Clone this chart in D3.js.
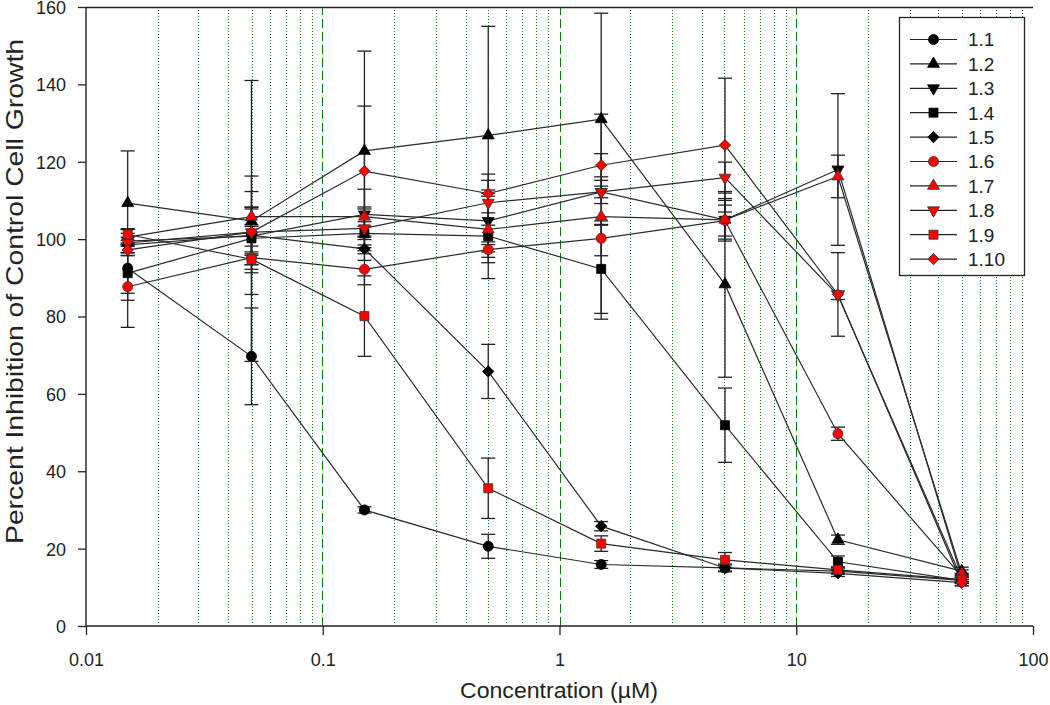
<!DOCTYPE html>
<html>
<head>
<meta charset="utf-8">
<script src="https://cdn.jsdelivr.net/npm/d3@7"></script>
<style>
  html, body { margin: 0; padding: 0; background: #fff; }
  svg { display: block; font-family: "Liberation Sans", Arial, sans-serif; }
</style>
</head>
<body>
<svg id="chart" width="1050" height="705"></svg>
<script>
// ---- data ----
const concentrations = [0.015, 0.05, 0.15, 0.5, 1.5, 5, 15, 50];
const seriesNames = ["1.1", "1.2", "1.3", "1.4", "1.5", "1.6", "1.7", "1.8", "1.9", "1.10"];
const xTickValues = [0.01, 0.1, 1, 10, 100];
const xTickLabels = ["0.01", "0.1", "1", "10", "100"];
const yTickValues = [0, 20, 40, 60, 80, 100, 120, 140, 160];

const s1_1  = [92.5, 69.7, 30.0, 20.6, 15.9, 15.0, 14.2, 11.8];
const s1_2  = [109.3, 104.7, 122.8, 126.8, 131.0, 88.3, 22.3, 14.2];
const s1_3  = [99.5, 100.8, 106.4, 104.7, 112.2, 105.0, 118.0, 12.5];
const s1_4  = [91.2, 100.2, 101.5, 100.8, 92.3, 51.9, 16.6, 11.8];
const s1_5  = [98.5, 101.0, 97.5, 65.8, 25.8, 15.0, 13.6, 11.2];
const s1_6  = [87.7, 95.2, 92.2, 97.3, 100.2, 104.8, 49.7, 12.8];
const s1_7  = [100.5, 105.8, 105.8, 102.5, 105.8, 105.0, 116.2, 13.5];
const s1_8  = [99.0, 101.8, 102.8, 109.4, 112.2, 115.9, 85.5, 12.2];
const s1_9  = [101.2, 94.8, 80.1, 35.6, 21.3, 17.1, 14.5, 12.0];
const s1_10 = [97.2, 101.8, 117.6, 111.8, 119.1, 124.3, 85.7, 11.2];

const e1_1  = [6.5, 12.5, 0.8, 3.1, 1.0, 1.0, 0.8, 0.8];
const e1_2  = [13.5, 36.3, 25.8, 28.2, 27.4, 24.0, 1.2, 1.0];
const e1_3  = [3.0, 7.4, 6.5, 8.0, 3.0, 5.0, 19.6, 1.0];
const e1_4  = [7.0, 3.5, 3.0, 11.0, 11.5, 9.6, 1.5, 0.8];
const e1_5  = [2.0, 15.3, 3.0, 7.0, 1.2, 0.8, 0.8, 0.8];
const e1_6  = [10.5, 3.0, 4.0, 2.0, 4.5, 4.0, 1.7, 0.8];
const e1_7  = [2.0, 2.5, 2.5, 8.6, 26.5, 5.5, 5.5, 1.0];
const e1_8  = [2.5, 6.0, 5.0, 5.8, 1.5, 4.0, 1.1, 0.8];
const e1_9  = [1.5, 1.4, 10.4, 7.8, 2.0, 1.9, 0.8, 0.8];
const e1_10 = [1.5, 10.5, 16.8, 5.0, 3.0, 17.3, 10.8, 0.8];

const seriesValues = [s1_1, s1_2, s1_3, s1_4, s1_5, s1_6, s1_7, s1_8, s1_9, s1_10];
const seriesErrors = [e1_1, e1_2, e1_3, e1_4, e1_5, e1_6, e1_7, e1_8, e1_9, e1_10];
const seriesShapes = ["circle", "up", "down", "square", "diamond", "circle", "up", "down", "square", "diamond"];
const seriesFills  = ["#000", "#000", "#000", "#000", "#000", "#ff0000", "#ff0000", "#ff0000", "#ff0000", "#ff0000"];

// ---- layout ----
const svg = d3.select("#chart");
const pLeft = 86, pRight = 1033, pTop = 7, pBottom = 626;
const x = d3.scaleLog().domain([0.01, 100]).range([pLeft, pRight]);
const y = d3.scaleLinear().domain([0, 160]).range([pBottom, pTop]);

// grid lines (snapped to even pixel columns so the green survives chroma subsampling)
const evenPx = v => 2 * Math.round(v / 2) + 0.5;
const grid = svg.append("g").attr("shape-rendering", "crispEdges");
const minors = [];
[0.01, 0.1, 1, 10].forEach(d => { for (let k = 2; k <= 9; k++) minors.push(k * d); });
grid.selectAll("line.minor").data(minors).enter().append("line")
  .attr("x1", d => evenPx(x(d))).attr("x2", d => evenPx(x(d)))
  .attr("y1", pBottom - 3).attr("y2", pTop + 2)
  .attr("stroke", "#008a00").attr("stroke-width", 1).attr("stroke-dasharray", "1,2");
grid.selectAll("line.major").data([0.1, 1, 10]).enter().append("line")
  .attr("x1", d => evenPx(x(d))).attr("x2", d => evenPx(x(d)))
  .attr("y1", pBottom).attr("y2", pTop)
  .attr("stroke", "#008000").attr("stroke-width", 1).attr("stroke-dasharray", "9,4");

// axes
const xAxis = d3.axisBottom(x).tickValues(xTickValues).tickFormat((d, i) => xTickLabels[i]).tickSize(9).tickPadding(18);
const gx = svg.append("g").attr("transform", `translate(0,${pBottom})`).call(xAxis);
const yAxis = d3.axisLeft(y).tickValues(yTickValues).tickSize(8).tickPadding(12);
const gy = svg.append("g").attr("transform", `translate(${pLeft},0)`).call(yAxis);
[gx, gy].forEach(g => {
  g.select(".domain").attr("stroke", "#222").attr("stroke-width", 1.4);
  g.selectAll(".tick line").attr("stroke", "#222").attr("stroke-width", 1.3);
  g.selectAll(".tick text").attr("fill", "#222").style("font-size", "18px")
    .style("font-family", "'Liberation Sans', Arial, sans-serif");
});
gy.selectAll(".tick text").attr("dy", "0.36em");
gx.select(".domain").attr("d", `M${pLeft},0H${pRight}`);
gy.select(".domain").attr("d", `M0,${pBottom}V${pTop}`);
// top frame line
svg.append("line").attr("x1", pLeft).attr("x2", pRight).attr("y1", pTop + 0.5).attr("y2", pTop + 0.5)
  .attr("stroke", "#222").attr("stroke-width", 1.3);

// axis titles
svg.append("text").attr("x", 559).attr("y", 698).attr("text-anchor", "middle")
  .style("font-size", "22px").attr("fill", "#222")
  .attr("textLength", 198).attr("lengthAdjust", "spacingAndGlyphs")
  .text("Concentration (µM)");
svg.append("text").attr("transform", `translate(23,${(pTop + pBottom) / 2 - 25}) rotate(-90)`)
  .attr("text-anchor", "middle")
  .style("font-size", "24px").attr("fill", "#222")
  .attr("textLength", 505).attr("lengthAdjust", "spacingAndGlyphs")
  .text("Percent Inhibition of Control Cell Growth");

// symbols
function symbolPath(shape) {
  switch (shape) {
    case "circle": return d3.symbol(d3.symbolCircle, 80)();
    case "up": return d3.symbol(d3.symbolTriangle, 62)();
    case "down": return d3.symbol(d3.symbolTriangle, 62)();
    case "square": return d3.symbol(d3.symbolSquare, 82)();
    case "diamond": return d3.symbol(d3.symbolSquare, 64)();
  }
}
function symbolRotate(shape) {
  if (shape === "down") return " rotate(180)";
  if (shape === "diamond") return " rotate(45)";
  return "";
}

const series = seriesNames.map((name, i) => ({
  name, shape: seriesShapes[i], fill: seriesFills[i],
  points: concentrations.map((c, j) => ({ c, v: seriesValues[i][j], e: seriesErrors[i][j] }))
}));

const line = d3.line().x(d => x(d.c)).y(d => y(d.v));
const plot = svg.append("g");
plot.selectAll("path.series").data(series).enter().append("path")
  .attr("d", s => line(s.points)).attr("fill", "none")
  .attr("stroke", "#2a2a2a").attr("stroke-width", 1.2);

// error bars
const eb = plot.append("g").attr("stroke", "#222").attr("stroke-width", 1.3);
series.forEach(s => {
  s.points.forEach(p => {
    const cx = x(p.c);
    eb.append("line").attr("x1", cx).attr("x2", cx).attr("y1", y(p.v + p.e)).attr("y2", y(p.v - p.e));
    [p.v + p.e, p.v - p.e].forEach(v => {
      eb.append("line").attr("x1", cx - 7).attr("x2", cx + 7).attr("y1", y(v)).attr("y2", y(v));
    });
  });
});

// markers
series.forEach(s => {
  plot.append("g").selectAll("path").data(s.points).enter().append("path")
    .attr("d", symbolPath(s.shape))
    .attr("transform", d => `translate(${x(d.c)},${y(d.v)})${symbolRotate(s.shape)}`)
    .attr("fill", s.fill).attr("stroke", s.fill === "#000" ? "#000" : "#333").attr("stroke-width", 0.8);
});

// legend
const lg = svg.append("g");
lg.append("rect").attr("x", 899.5).attr("y", 17.5).attr("width", 125).attr("height", 258)
  .attr("fill", "#fff").attr("stroke", "#222").attr("stroke-width", 1.3);
series.forEach((s, i) => {
  const ly = 39.5 + i * 24.4;
  lg.append("line").attr("x1", 910).attr("x2", 957).attr("y1", ly).attr("y2", ly)
    .attr("stroke", "#222").attr("stroke-width", 1.2);
  lg.append("path").attr("d", symbolPath(s.shape))
    .attr("transform", `translate(933.5,${ly})${symbolRotate(s.shape)}`)
    .attr("fill", s.fill).attr("stroke", s.fill === "#000" ? "#000" : "#333").attr("stroke-width", 0.8);
  lg.append("text").attr("x", 968).attr("y", ly).attr("dy", "0.36em")
    .style("font-size", "19px").attr("fill", "#222").text(s.name);
});
</script>
</body>
</html>
